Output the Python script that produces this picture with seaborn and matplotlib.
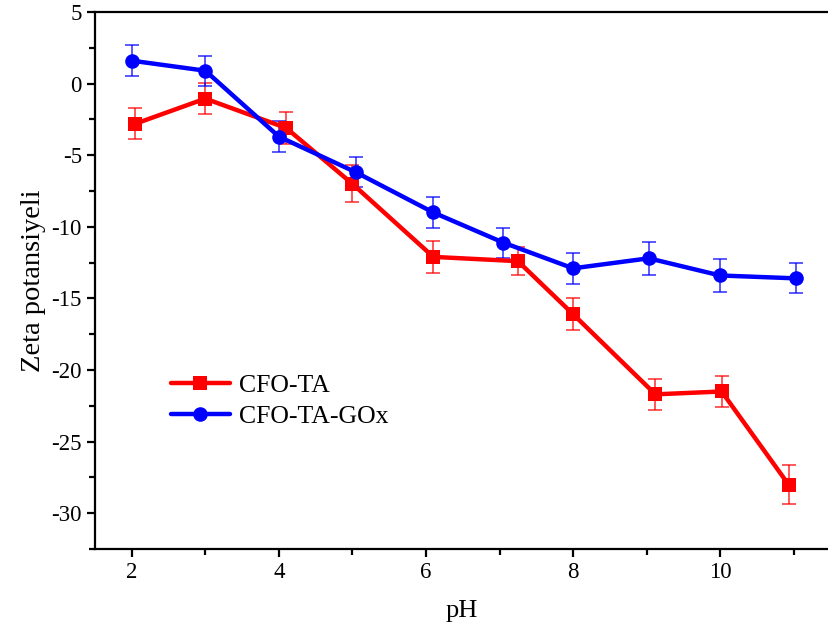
import matplotlib
matplotlib.use("Agg")
import matplotlib.pyplot as plt
import seaborn as sns
import pandas as pd
from matplotlib.ticker import MultipleLocator

# Data
ph_ta = [2.05, 3.0, 4.1, 5.0, 6.1, 7.25, 8.0, 9.12, 10.02, 10.93]
zeta_ta = [-2.8, -1.05, -3.1, -7.0, -12.1, -12.4, -16.1, -21.7, -21.5, -28.0]
err_ta = [1.1, 1.1, 1.1, 1.3, 1.1, 1.0, 1.1, 1.1, 1.1, 1.35]

ph_gox = [2.0, 3.0, 4.0, 5.05, 6.1, 7.05, 8.0, 9.03, 10.0, 11.03]
zeta_gox = [1.6, 0.9, -3.7, -6.2, -9.0, -11.1, -12.9, -12.2, -13.4, -13.6]
err_gox = [1.1, 1.05, 1.1, 1.05, 1.05, 1.05, 1.1, 1.15, 1.15, 1.05]

labels = ["CFO-TA", "CFO-TA-GOx"]
colors = ["#ff0000", "#0000ff"]

df = pd.concat([
    pd.DataFrame({"pH": ph_ta, "zeta": zeta_ta, "series": labels[0]}),
    pd.DataFrame({"pH": ph_gox, "zeta": zeta_gox, "series": labels[1]}),
])

sns.set_style("ticks")
plt.rcParams["font.family"] = ["Liberation Serif", "DejaVu Serif"]
plt.rcParams["axes.linewidth"] = 1.6
plt.rcParams["axes.unicode_minus"] = False
plt.rcParams["text.color"] = "black"
plt.rcParams["axes.labelcolor"] = "black"
plt.rcParams["xtick.color"] = "black"
plt.rcParams["ytick.color"] = "black"

fig = plt.figure(figsize=(8.29, 6.32), dpi=100)
ax = fig.add_axes([95 / 829, 83 / 632, 1 - 95 / 829, (549 - 12) / 632])

# error bars
ax.errorbar(ph_ta, zeta_ta, yerr=err_ta, fmt="none", ecolor=colors[0], alpha=0.65,
            elinewidth=1.4, capsize=5, capthick=1.4, zorder=2)
ax.errorbar(ph_gox, zeta_gox, yerr=err_gox, fmt="none", ecolor=colors[1], alpha=0.65,
            elinewidth=1.4, capsize=5, capthick=1.4, zorder=2)

sns.lineplot(data=df, x="pH", y="zeta", hue="series", style="series",
             palette=dict(zip(labels, colors)),
             markers={labels[0]: "s", labels[1]: "o"}, dashes=False,
             linewidth=3.2, markersize=10.5, markeredgewidth=0,
             sort=False, ax=ax, zorder=3)

ax.set_xlim(1.5, 11.48)
ax.set_ylim(-32.5, 5)
ax.xaxis.set_major_locator(MultipleLocator(2))
ax.xaxis.set_minor_locator(MultipleLocator(1))
ax.yaxis.set_major_locator(MultipleLocator(5))
ax.yaxis.set_minor_locator(MultipleLocator(2.5))
ax.tick_params(which="major", direction="out", length=6, width=1.6, labelsize=16.5,
               colors="black", labelcolor="black")
ax.tick_params(which="minor", direction="out", length=4, width=1.6, colors="black")
ax.tick_params(top=False, right=False, which="both")
ax.spines["right"].set_visible(False)
for s in ["left", "bottom", "top"]:
    ax.spines[s].set_color("black")

ax.set_xlabel("pH", fontsize=19, labelpad=12, color="black")
ax.set_ylabel("Zeta potansiyeli", fontsize=20.5, labelpad=4, color="black")

leg = ax.legend(loc="upper left", bbox_to_anchor=(0.089, 0.345), frameon=False,
                fontsize=18.5, handlelength=2.3, handletextpad=0.35, labelspacing=0.3,
                borderaxespad=0)
for h in leg.legend_handles:
    h.set_linewidth(3.2)
for t in leg.get_texts():
    t.set_color("black")

fig.savefig("out.png", dpi=100)
